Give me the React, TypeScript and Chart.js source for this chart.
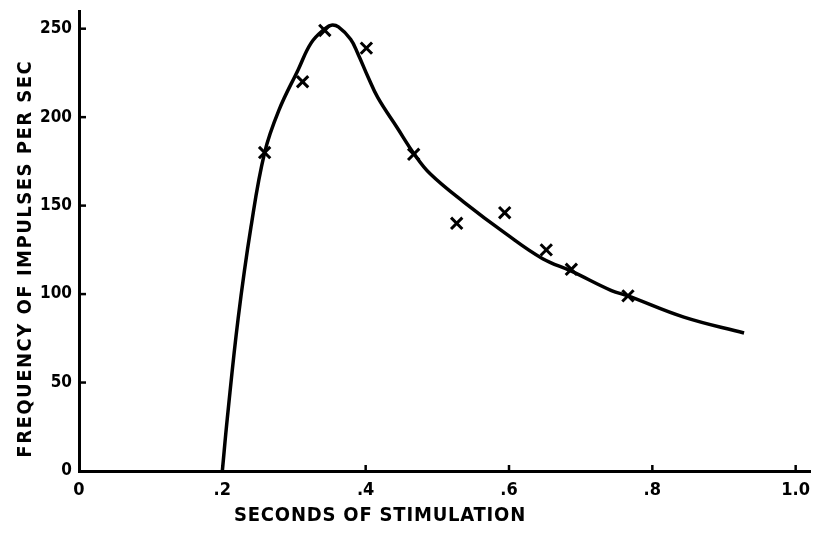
import React, { useEffect, useRef } from "react";
import { Chart, registerables } from "chart.js";

Chart.register(...registerables);

// Measured points (crosses)
const pointSeconds = [0.259, 0.312, 0.343, 0.401, 0.467, 0.527, 0.594, 0.652, 0.687, 0.766];
const pointFrequency = [180, 220, 249, 239, 179, 140, 146, 125, 114, 99];

// Hand-drawn smooth curve
const curveSeconds = [0.2, 0.207, 0.222, 0.24, 0.259, 0.279, 0.306, 0.324, 0.343, 0.352, 0.362, 0.379, 0.389, 0.403, 0.417, 0.444, 0.468, 0.49, 0.537, 0.596, 0.647, 0.687, 0.743, 0.766, 0.844, 0.928];
const curveFrequency = [0, 30, 86, 138, 180, 204, 227, 242, 250, 252, 251, 244, 236, 223, 211, 194, 179, 168, 152, 134, 120, 113, 102, 99, 87, 78];

const xTickValues = [0, 0.2, 0.4, 0.6, 0.8, 1.0];
const xTickLabels = ["0", ".2", ".4", ".6", ".8", "1.0"];
const yTickValues = [0, 50, 100, 150, 200, 250];
const yTickLabels = ["0", "50", "100", "150", "200", "250"];

const xTitle = "SECONDS OF STIMULATION";
const yTitle = "FREQUENCY OF IMPULSES PER SEC";

const FONT = "'DejaVu Sans Condensed', 'Liberation Sans', sans-serif";

const axisDecor = {
  id: "axisDecor",
  afterDraw(chart: any) {
    const { ctx, chartArea, scales } = chart;
    const xs = scales.x;
    const ys = scales.y;
    ctx.save();
    ctx.strokeStyle = "#000";
    ctx.lineWidth = 2.5;
    xTickValues.slice(1).forEach((v) => {
      const px = xs.getPixelForValue(v);
      ctx.beginPath();
      ctx.moveTo(px, chartArea.bottom);
      ctx.lineTo(px, chartArea.bottom - 6);
      ctx.stroke();
    });
    yTickValues.slice(1).forEach((v) => {
      const py = ys.getPixelForValue(v);
      ctx.beginPath();
      ctx.moveTo(chartArea.left, py);
      ctx.lineTo(chartArea.left + 7, py);
      ctx.stroke();
    });
    ctx.fillStyle = "#000";
    ctx.font = `bold 20px ${FONT}`;
    ctx.textAlign = "center";
    ctx.textBaseline = "middle";
    (ctx as any).letterSpacing = "0.8px";
    ctx.fillText(xTitle, xs.getPixelForValue(0.42), 516);
    (ctx as any).letterSpacing = "1.5px";
    ctx.translate(26, ys.getPixelForValue(120));
    ctx.rotate(-Math.PI / 2);
    ctx.fillText(yTitle, 0, 0);
    ctx.restore();
  },
};

export default function App() {
  const canvasRef = useRef<HTMLCanvasElement | null>(null);

  useEffect(() => {
    if (!canvasRef.current) return;
    const chart = new Chart(canvasRef.current, {
      type: "line",
      data: {
        datasets: [
          {
            label: "curve",
            data: curveSeconds.map((x, i) => ({ x, y: curveFrequency[i] })),
            borderColor: "#000",
            borderWidth: 3.5,
            pointRadius: 0,
            fill: false,
            tension: 0.4,
          },
          {
            label: "points",
            data: pointSeconds.map((x, i) => ({ x, y: pointFrequency[i] })),
            showLine: false,
            pointStyle: "crossRot",
            pointRadius: 8,
            pointBorderWidth: 3,
            pointBorderColor: "#000",
            borderColor: "#000",
          },
        ],
      },
      options: {
        animation: false,
        responsive: true,
        maintainAspectRatio: false,
        layout: { padding: { top: 5, right: 4, left: 0, bottom: 0 } },
        plugins: { legend: { display: false }, tooltip: { enabled: false }, title: { display: false } },
        scales: {
          x: {
            type: "linear",
            min: 0,
            max: 1.02,
            grid: { display: false, drawTicks: false },
            border: { display: true, color: "#000", width: 3 },
            afterBuildTicks: (scale: any) => {
              scale.ticks = xTickValues.map((value) => ({ value }));
            },
            afterFit: (scale: any) => {
              scale.height = 65;
              scale.paddingLeft = 0;
              scale.paddingRight = 0;
            },
            ticks: {
              autoSkip: false,
              maxRotation: 0,
              padding: 9,
              color: "#000",
              font: { family: FONT, size: 18, weight: "bold" },
              callback: (v: any) => {
                const i = xTickValues.indexOf(Number(v));
                return i >= 0 ? xTickLabels[i] : "";
              },
            },
          },
          y: {
            type: "linear",
            min: 0,
            max: 260,
            grid: { display: false, drawTicks: false },
            border: { display: true, color: "#000", width: 3 },
            afterBuildTicks: (scale: any) => {
              scale.ticks = yTickValues.map((value) => ({ value }));
            },
            afterFit: (scale: any) => {
              scale.width = 79;
              scale.paddingTop = 0;
              scale.paddingBottom = 0;
            },
            ticks: {
              autoSkip: false,
              padding: 7,
              color: "#000",
              font: { family: FONT, size: 17, weight: "bold" },
              callback: (v: any) => {
                const i = yTickValues.indexOf(Number(v));
                return i >= 0 ? yTickLabels[i] : "";
              },
            },
          },
        },
      },
      plugins: [axisDecor],
    });
    return () => chart.destroy();
  }, []);

  return (
    <div style={{ position: "fixed", left: 0, top: 0, width: 821, height: 536, background: "#fff" }}>
      <canvas ref={canvasRef} />
    </div>
  );
}
